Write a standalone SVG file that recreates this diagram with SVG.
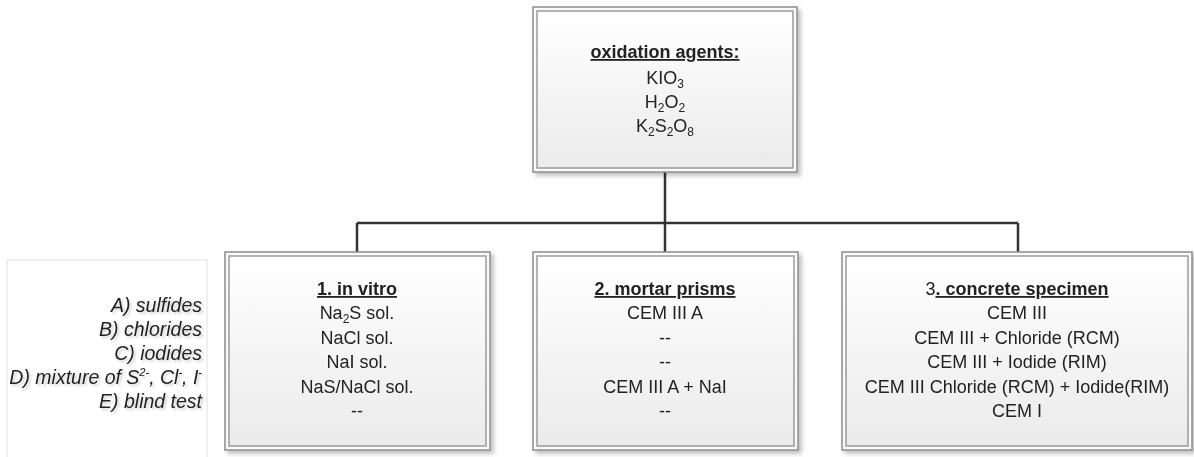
<svg xmlns="http://www.w3.org/2000/svg" width="1194" height="457" viewBox="0 0 1194 457">
<defs>
<linearGradient id="g" x1="0" y1="0" x2="0" y2="1">
<stop offset="0" stop-color="#ffffff"/>
<stop offset="1" stop-color="#ebebeb"/>
</linearGradient>
<filter id="sh" x="-5%" y="-5%" width="115%" height="115%">
<feDropShadow dx="3" dy="3" stdDeviation="2" flood-color="#000" flood-opacity="0.25"/>
</filter>
<filter id="tsh" x="-5%" y="-20%" width="115%" height="150%">
<feDropShadow dx="2" dy="2" stdDeviation="1" flood-color="#000" flood-opacity="0.18"/>
</filter>
</defs>
<style>
.outer{fill:#fafafa;stroke:#8c8c8c;stroke-width:1.5}
.inner{fill:url(#g);stroke:#9a9a9a;stroke-width:1.5}
text{font-family:"Liberation Sans",Arial,sans-serif;font-size:18px;fill:#222;text-anchor:middle}
.h{font-weight:bold;text-decoration:underline}
.leg{font-style:italic;font-size:19.5px;text-anchor:end}
.conn{stroke:#333;stroke-width:2.5;fill:none}
</style>

<g id="legend">
<rect x="7" y="260" width="200" height="205" fill="#fff" stroke="#e2e2e2" stroke-width="1"/>
<g filter="url(#tsh)">
<text class="leg" x="202" y="312">A) sulfides</text>
<text class="leg" x="202" y="336">B) chlorides</text>
<text class="leg" x="202" y="360">C) iodides</text>
<text class="leg" x="202" y="384">D) mixture of S<tspan dy="-8" font-size="11">2-</tspan><tspan dy="8">, Cl</tspan><tspan dy="-8" font-size="11">-</tspan><tspan dy="8">, I</tspan><tspan dy="-8" font-size="11">-</tspan></text>
<text class="leg" x="202" y="408">E) blind test</text>
</g>
</g>

<g id="connectors">
<path class="conn" d="M665 172 V252 M357 223 H1018 M357 223 V252 M1018 223 V252"/>
</g>

<g id="oxidation" filter="url(#sh)">
<rect class="outer" x="533" y="7" width="264" height="165"/>
<rect class="inner" x="537" y="11" width="256" height="157"/>
<text x="665" y="58" class="h">oxidation agents:</text>
<text x="665" y="84">KIO<tspan dy="4" font-size="12">3</tspan></text>
<text x="665" y="108">H<tspan dy="4" font-size="12">2</tspan><tspan dy="-4">O</tspan><tspan dy="4" font-size="12">2</tspan></text>
<text x="665" y="132">K<tspan dy="4" font-size="12">2</tspan><tspan dy="-4">S</tspan><tspan dy="4" font-size="12">2</tspan><tspan dy="-4">O</tspan><tspan dy="4" font-size="12">8</tspan></text>
</g>

<g id="invitro" filter="url(#sh)">
<rect class="outer" x="225" y="252" width="265" height="198"/>
<rect class="inner" x="229" y="256" width="257" height="190"/>
<text x="357" y="295" class="h">1. in vitro</text>
<text x="357" y="319">Na<tspan dy="4" font-size="12">2</tspan><tspan dy="-4">S sol.</tspan></text>
<text x="357" y="344">NaCl sol.</text>
<text x="357" y="368">NaI sol.</text>
<text x="357" y="393">NaS/NaCl sol.</text>
<text x="357" y="417">--</text>
</g>

<g id="mortar" filter="url(#sh)">
<rect class="outer" x="533" y="252" width="265" height="198"/>
<rect class="inner" x="537" y="256" width="257" height="190"/>
<text x="665" y="295" class="h">2. mortar prisms</text>
<text x="665" y="319">CEM III A</text>
<text x="665" y="344">--</text>
<text x="665" y="368">--</text>
<text x="665" y="393">CEM III A + NaI</text>
<text x="665" y="417">--</text>
</g>

<g id="concrete" filter="url(#sh)">
<rect class="outer" x="842" y="252" width="350" height="198"/>
<rect class="inner" x="846" y="256" width="342" height="190"/>
<text x="1017" y="295">3<tspan class="h">. concrete specimen</tspan></text>
<text x="1017" y="319">CEM III</text>
<text x="1017" y="344">CEM III + Chloride (RCM)</text>
<text x="1017" y="368">CEM III + Iodide (RIM)</text>
<text x="1017" y="393">CEM III Chloride (RCM) + Iodide(RIM)</text>
<text x="1017" y="417">CEM I</text>
</g>
</svg>
